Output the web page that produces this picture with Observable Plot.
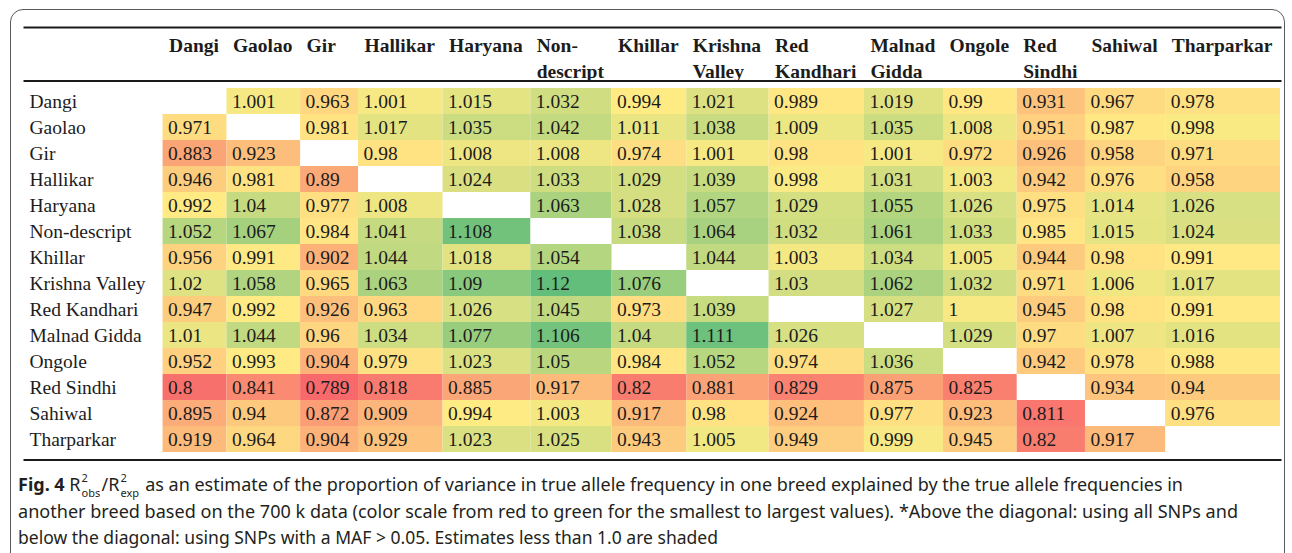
<!DOCTYPE html>
<html><head><meta charset="utf-8">
<script src="https://cdn.jsdelivr.net/npm/d3@7"></script>
<script src="https://cdn.jsdelivr.net/npm/@observablehq/plot@0.6"></script>
<style>
html,body{margin:0;padding:0;background:#fff;width:1292px;height:553px;overflow:hidden}
#frame{position:absolute;left:10px;top:9px;width:1275px;height:620px;border:1.4px solid #5a5a5a;border-radius:13px;box-sizing:border-box}
#chart{position:absolute;left:0;top:0}
#caption{position:absolute;left:18px;top:471px;font-family:"Noto Sans",sans-serif;font-size:18px;color:#231f20}
.line{white-space:nowrap;transform-origin:0 0;height:26.5px;line-height:26.5px;display:block;width:max-content}
.ss{display:inline-block;position:relative;width:21px;height:18px;vertical-align:baseline}
.sp,.sb{position:absolute;left:1px;font-size:11px;line-height:11px}
.sp{top:-1px}
.sb{top:14px}
</style></head><body>
<div id="frame"></div>
<div id="chart"></div>
<div id="caption">
<div class="line" data-w="1165"><b>Fig. 4</b> R<span class="ss"><span class="sp">2</span><span class="sb">obs</span></span>/R<span class="ss"><span class="sp">2</span><span class="sb">exp</span></span> as an estimate of the proportion of variance in true allele frequency in one breed explained by the true allele frequencies in</div>
<div class="line" data-w="1220">another breed based on the 700 k data (color scale from red to green for the smallest to largest values). *Above the diagonal: using all SNPs and</div>
<div class="line" data-w="700">below the diagonal: using SNPs with a MAF &gt; 0.05. Estimates less than 1.0 are shaded</div>
</div>
<script>
// ---------- data ----------
const breeds = ["Dangi","Gaolao","Gir","Hallikar","Haryana","Non-descript","Khillar","Krishna Valley","Red Kandhari","Malnad Gidda","Ongole","Red Sindhi","Sahiwal","Tharparkar"];
const headerLabels = ["Dangi","Gaolao","Gir","Hallikar","Haryana","Non-\ndescript","Khillar","Krishna\nValley","Red\nKandhari","Malnad\nGidda","Ongole","Red\nSindhi","Sahiwal","Tharparkar"];

const dangi       = [null, 1.001, 0.963, 1.001, 1.015, 1.032, 0.994, 1.021, 0.989, 1.019, 0.99, 0.931, 0.967, 0.978];
const gaolao      = [0.971, null, 0.981, 1.017, 1.035, 1.042, 1.011, 1.038, 1.009, 1.035, 1.008, 0.951, 0.987, 0.998];
const gir         = [0.883, 0.923, null, 0.98, 1.008, 1.008, 0.974, 1.001, 0.98, 1.001, 0.972, 0.926, 0.958, 0.971];
const hallikar    = [0.946, 0.981, 0.89, null, 1.024, 1.033, 1.029, 1.039, 0.998, 1.031, 1.003, 0.942, 0.976, 0.958];
const haryana     = [0.992, 1.04, 0.977, 1.008, null, 1.063, 1.028, 1.057, 1.029, 1.055, 1.026, 0.975, 1.014, 1.026];
const nondescript = [1.052, 1.067, 0.984, 1.041, 1.108, null, 1.038, 1.064, 1.032, 1.061, 1.033, 0.985, 1.015, 1.024];
const khillar     = [0.956, 0.991, 0.902, 1.044, 1.018, 1.054, null, 1.044, 1.003, 1.034, 1.005, 0.944, 0.98, 0.991];
const krishna     = [1.02, 1.058, 0.965, 1.063, 1.09, 1.12, 1.076, null, 1.03, 1.062, 1.032, 0.971, 1.006, 1.017];
const redKandhari = [0.947, 0.992, 0.926, 0.963, 1.026, 1.045, 0.973, 1.039, null, 1.027, 1, 0.945, 0.98, 0.991];
const malnad      = [1.01, 1.044, 0.96, 1.034, 1.077, 1.106, 1.04, 1.111, 1.026, null, 1.029, 0.97, 1.007, 1.016];
const ongole      = [0.952, 0.993, 0.904, 0.979, 1.023, 1.05, 0.984, 1.052, 0.974, 1.036, null, 0.942, 0.978, 0.988];
const redSindhi   = [0.8, 0.841, 0.789, 0.818, 0.885, 0.917, 0.82, 0.881, 0.829, 0.875, 0.825, null, 0.934, 0.94];
const sahiwal     = [0.895, 0.94, 0.872, 0.909, 0.994, 1.003, 0.917, 0.98, 0.924, 0.977, 0.923, 0.811, null, 0.976];
const tharparkar  = [0.919, 0.964, 0.904, 0.929, 1.023, 1.025, 0.943, 1.005, 0.949, 0.999, 0.945, 0.82, 0.917, null];

const matrix = [dangi, gaolao, gir, hallikar, haryana, nondescript, khillar, krishna, redKandhari, malnad, ongole, redSindhi, sahiwal, tharparkar];

// ---------- build table ----------
const cells = [];
breeds.forEach((r, i) => matrix[i].forEach((v, j) => {
  if (v != null) cells.push({row: r, col: j, value: v});
}));

const serif = "'Liberation Serif','Times New Roman',serif";
const FS = 19.5;
const ctx = document.createElement("canvas").getContext("2d");
function tw(text, bold) { ctx.font = `${bold ? "bold " : ""}${FS}px ${serif}`; return ctx.measureText(text).width; }
const PAD = 14;
const labelW = d3.max(breeds, b => tw(b, false)) + PAD + 8;
const colW = breeds.map((b, j) => Math.max(
  d3.max(headerLabels[j].split("\n"), s => tw(s, true)),
  d3.max(matrix.map(r => r[j]).filter(v => v != null), v => tw(String(v), false))
) + PAD);
const edges = [0, ...d3.cumsum([labelW, ...colW])];
const total = edges[edges.length - 1];

const vals = cells.map(d => d.value);
const vMin = d3.min(vals), vMed = d3.median(vals), vMax = d3.max(vals);

const plot = Plot.plot({
  width: 1292, height: 470,
  marginTop: 82, marginBottom: 11.5, marginLeft: 24, marginRight: 12,
  x: {domain: [0, total], axis: null},
  y: {type: "band", domain: breeds, padding: 0, axis: null},
  color: {type: "linear", domain: [vMin, vMed, vMax], range: ["#F8696B", "#FFEB84", "#63BE7B"], interpolate: "rgb"},
  style: {fontFamily: serif, fontSize: FS + "px", color: "#1c1c1c", background: "transparent"},
  marks: [
    Plot.barX(cells, {x1: d => edges[d.col + 1], x2: d => edges[d.col + 2], y: "row", fill: "value"}),
    Plot.text(cells, {x: d => edges[d.col + 1], y: "row", text: d => String(d.value), textAnchor: "start", dx: 5, fontSize: FS}),
    Plot.text(breeds, {x: () => 0, y: d => d, text: d => d, textAnchor: "start", dx: 5, fontSize: FS}),
    Plot.text(headerLabels, {x: (d, i) => edges[i + 1], text: d => d, frameAnchor: "top", lineAnchor: "top", dy: -48.5, dx: 6, fontWeight: "bold", lineHeight: 1.33, textAnchor: "start", fontSize: FS}),
    Plot.frame({anchor: "top", insetTop: -55, stroke: "#1a1a1a", strokeWidth: 2}),
    Plot.frame({anchor: "top", insetTop: -1.5, stroke: "#1a1a1a", strokeWidth: 2}),
    Plot.frame({anchor: "bottom", insetBottom: -1, stroke: "#1a1a1a", strokeWidth: 2})
  ]
});
document.getElementById("chart").appendChild(plot);

// fit caption lines
document.querySelectorAll("#caption .line").forEach(el => {
  const w = el.getBoundingClientRect().width;
  const target = +el.dataset.w;
  el.style.transform = `scaleX(${target / w})`;
});
</script>
</body></html>
